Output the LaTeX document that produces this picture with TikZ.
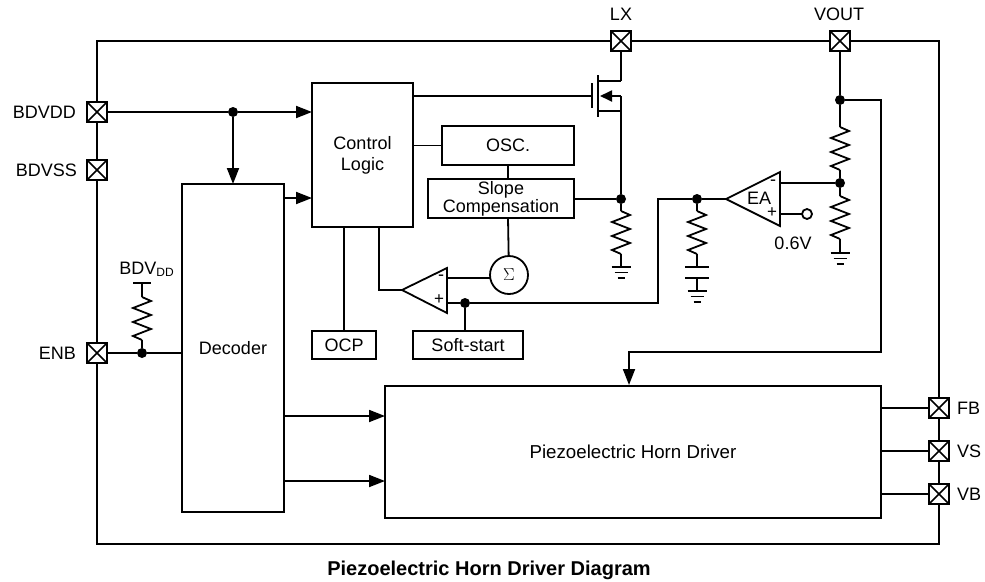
\documentclass[tikz,border=0pt]{standalone}
\usepackage{fontspec}
\setmainfont{Liberation Sans}
\usepackage{tikz}
\usetikzlibrary{arrows.meta,calc}
\tikzset{
    wire/.style={line width=1.8pt},
    arr/.style={wire,-{Triangle[length=16pt,width=12pt]}},
    blk/.style={draw,line width=1.8pt,rectangle,inner sep=0pt,outer sep=0pt,align=center},
    txt/.style={inner sep=0pt,outer sep=0pt,align=center},
    dot/.style={circle,fill=black,inner sep=0pt,outer sep=0pt,minimum size=10pt},
    pad/.style={draw,line width=2.1pt,fill=white,rectangle,inner sep=0pt,outer sep=0pt,minimum size=20pt,
        path picture={\draw[line width=1.7pt] (path picture bounding box.south west) -- (path picture bounding box.north east)
            (path picture bounding box.north west) -- (path picture bounding box.south east);}},
    pics/resistor/.style={code={
        \coordinate (-top) at (0,0);
        \coordinate (-bot) at (0,43);
        \draw[wire,line join=miter] (0,0) -- (9,4) -- (-9,11) -- (9,18) -- (-9,25) -- (9,32) -- (-9,39) -- (0,43);
    }},
    pics/ground/.style={code={
        \coordinate (-top) at (0,0);
        \draw[wire] (-9.5,0) -- (9.5,0) (-6.5,5.5) -- (6.5,5.5) (-3.5,11) -- (3.5,11);
    }}
}
\begin{document}
\begin{tikzpicture}[x=1pt,y=-1pt,font=\fontsize{18}{20}\selectfont]
        \useasboundingbox (0,0) rectangle (985,581);
        % frame and pads
        \draw[wire] (97,41) rectangle (939,544);
        \node[pad] (lx) at (621,41) {};
        \node[pad] (vout) at (840,41) {};
        \node[pad] (bdvdd) at (97,112) {};
        \node[pad] (bdvss) at (97,170) {};
        \node[pad] (enb) at (97,353) {};
        \node[pad] (fb) at (939,408) {};
        \node[pad] (vs) at (939,451) {};
        \node[pad] (vb) at (939,494) {};
        \node[txt] (lxlabel) at (621,14) {LX};
        \node[txt] (voutlabel) at (839,14) {VOUT};
        \node[txt,anchor=east] (bdvddlabel) at (76,112) {BDVDD};
        \node[txt,anchor=east] (bdvsslabel) at (77,170) {BDVSS};
        \node[txt,anchor=east] (enblabel) at (76,353) {ENB};
        \node[txt,anchor=west] (fblabel) at (957,408) {FB};
        \node[txt,anchor=west] (vslabel) at (957,451) {VS};
        \node[txt,anchor=west] (vblabel) at (957,494) {VB};
        % blocks
        \node[blk,minimum width=101pt,minimum height=144pt] (ctrl) at (362.5,155) {Control\\[1pt]Logic};
        \node[blk,minimum width=132pt,minimum height=39pt] (osc) at (508,145.5) {OSC.};
        \node[blk,minimum width=146pt,minimum height=39pt,font=\fontsize{18}{16.5}\selectfont] (slope) at (501,198.5) {Slope\\Compensation};
        \node[blk,minimum width=102pt,minimum height=328pt] (dec) at (233,348) {Decoder};
        \node[blk,minimum width=496pt,minimum height=132pt,font=\fontsize{18.7}{20}\selectfont] (horn) at (633,452) {Piezoelectric Horn Driver};
        \node[blk,minimum width=64pt,minimum height=28pt] (ocp) at (344,345) {OCP};
        \node[blk,minimum width=110pt,minimum height=28pt] (soft) at (468,345) {Soft-start};
        \node[blk,circle,minimum size=38pt] (sum) at (509,275) {$\Sigma$};
        % amplifiers
        \coordinate (cmpout) at (402,290);
        \coordinate (cmpm) at (447,278);
        \coordinate (cmpp) at (447,303);
        \draw[wire,line join=miter] (cmpout) -- (447,268) -- (447,313) -- cycle;
        \node[txt] (cmpmlabel) at (441,278) {-};
        \node[txt,font=\fontsize{17}{17}\selectfont] (cmpplabel) at (439,300) {+};
        \coordinate (eaout) at (726,199);
        \coordinate (eam) at (780,183);
        \coordinate (eap) at (780,214);
        \draw[wire,line join=miter] (eaout) -- (780,172) -- (780,226) -- cycle;
        \node[txt] (ealabel) at (759,198) {EA};
        \node[txt] (eamlabel) at (773,183) {-};
        \node[txt,font=\fontsize{17}{17}\selectfont] (eaplabel) at (772,213) {+};
        \node[draw,wire,circle,fill=white,inner sep=0pt,outer sep=0pt,minimum size=10pt] (ref) at (807,214) {};
        \node[txt] (reflabel) at (793,243) {0.6V};
        % junctions
        \node[dot] (n1) at (233,112) {};
        \node[dot] (n2) at (142,353) {};
        \node[dot] (n3) at (621,199) {};
        \node[dot] (n4) at (697,199) {};
        \node[dot] (n5) at (840,100) {};
        \node[dot] (n6) at (840,183) {};
        \node[dot] (n7) at (465,303) {};
        % resistors, capacitor and grounds
        \pic (r1) at (621,211) {resistor};
        \pic (r2) at (697,211) {resistor};
        \pic (r3) at (840,127) {resistor};
        \pic (r4) at (840,196) {resistor};
        \pic (r5) at (142,297) {resistor};
        \pic (g1) at (621,267) {ground};
        \pic (g2) at (697,291) {ground};
        \pic (g3) at (840,253) {ground};
        \coordinate (c1) at (697,267);
        \coordinate (c2) at (697,278);
        \draw[line width=2.6pt] ($(c1)+(-12,0)$) -- ($(c1)+(12,0)$);
        \draw[wire] ($(c2)+(-12,0)$) -- ($(c2)+(12,0)$);
        \coordinate (vdd) at (142,283);
        \draw[wire] ($(vdd)+(-9,0)$) -- ($(vdd)+(9,0)$);
        \node[txt] (vddlabel) at (146.5,269) {BDV\raisebox{-2pt}{\fontsize{12}{12}\selectfont DD}};
        % mosfet
        \coordinate (gate) at (592,96);
        \coordinate (drain) at (621,81);
        \coordinate (source) at (621,111);
        \coordinate (body) at (621,96);
        \draw[wire] (592,83) -- (592,108);
        \draw[wire] (598,75) -- (598,117);
        \draw[wire] (598,81) -- (drain);
        \draw[wire] (598,111) -- (source);
        \draw[wire,-{Triangle[length=12pt,width=11pt]}] (body) -- (600,96);
        % wires
        \draw[wire] (lx) -- (drain);
        \draw[wire] (drain |- source) -- (n3);
        \draw[wire] (body) -- (source);
        \draw[wire] (ctrl.east |- gate) -- (gate);
        \draw[wire] (ctrl.east |- osc) -- (osc);
        \draw[wire] (osc.south) -- (osc.south |- slope.north);
        \draw[wire] (slope.east |- n3) -- (n3);
        \draw[wire] (n3) -- (r1-top);
        \draw[wire] (r1-bot) -- (g1-top);
        \draw[wire] (osc.south |- slope.south) -- (sum);
        \draw[wire] (cmpm) -- (cmpm -| sum.west);
        \draw[wire] (ocp.north) -- (ocp.north |- ctrl.south);
        \draw[wire] (cmpout) -| (379,227);
        \draw[wire] (cmpp) -- (n7);
        \draw[wire] (n7) -- (n7 |- soft.north);
        \draw[wire] (n7) -| (658,199) -- (n4);
        \draw[wire] (n4) -- (eaout);
        \draw[wire] (n4) -- (r2-top);
        \draw[wire] (r2-bot) -- (c1);
        \draw[wire] (c2) -- (g2-top);
        \draw[wire] (eam) -- (n6);
        \draw[wire] (eap) -- (ref);
        \draw[wire] (vout) -- (n5);
        \draw[wire] (n5) -- (r3-top);
        \draw[wire] (r3-bot) -- (n6);
        \draw[wire] (n6) -- (r4-top);
        \draw[wire] (r4-bot) -- (g3-top);
        \draw[arr] (n5) -| (881,352) -| (629,385);
        \draw[wire] (bdvdd) -- (n1);
        \draw[arr] (n1) -- (ctrl.west |- n1);
        \draw[arr] (n1) -- (n1 |- dec.north);
        \draw[arr] (dec.east |- 0,198) -- (ctrl.west |- 0,198);
        \draw[wire] (enb) -- (n2);
        \draw[wire] (n2) -- (dec.west |- n2);
        \draw[wire] (n2) -- (r5-bot);
        \draw[wire] (r5-top) -- (vdd);
        \draw[arr] (dec.east |- 0,416) -- (horn.west |- 0,416);
        \draw[arr] (dec.east |- 0,481) -- (horn.west |- 0,481);
        \draw[wire] (horn.east |- fb) -- (fb);
        \draw[wire] (horn.east |- vs) -- (vs);
        \draw[wire] (horn.east |- vb) -- (vb);
        \node[txt,font=\fontsize{20}{22}\selectfont\bfseries] (title) at (489,570) {Piezoelectric Horn Driver Diagram};
\end{tikzpicture}
\end{document}
